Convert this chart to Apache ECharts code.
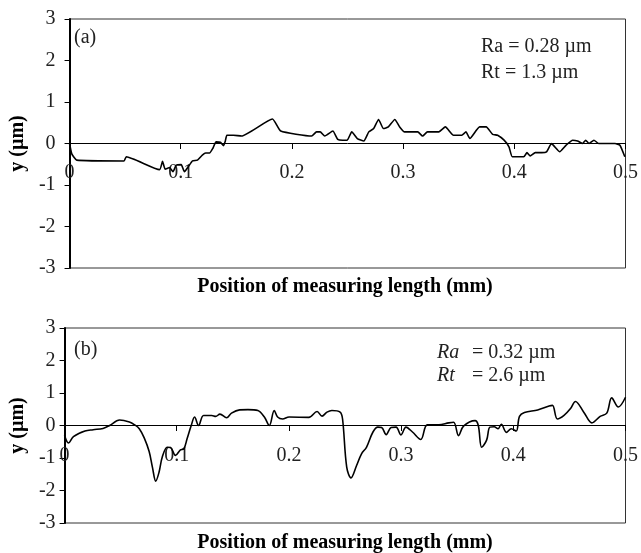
<!DOCTYPE html>
<html>
<head>
<meta charset="utf-8">
<script src="https://cdn.jsdelivr.net/npm/echarts@6/dist/echarts.min.js"></script>
<style>
html,body{margin:0;padding:0;background:#fff;}
#chart{width:641px;height:553px;}
</style>
</head>
<body>
<div id="chart"></div>
<script>
// Panel (a) profile
var aX = [0.000,0.002,0.0064,0.049,0.051,0.081,0.0836,0.086,0.090,0.093,0.096,0.1004,0.1033,0.107,0.1106,0.115,0.1194,0.1224,0.1259,0.1288,0.1318,0.1356,0.1385,0.140,0.1415,0.1473,0.1547,0.1825,0.1899,0.2177,0.2221,0.2254,0.2295,0.2368,0.2412,0.2456,0.2497,0.2538,0.2588,0.2647,0.2691,0.2735,0.2779,0.2823,0.2867,0.2925,0.2969,0.3013,0.3131,0.3175,0.3219,0.3321,0.338,0.3453,0.3527,0.3565,0.36,0.3688,0.3747,0.3805,0.385,0.3908,0.3952,0.3982,0.4085,0.4114,0.4143,0.4188,0.4246,0.429,0.4334,0.4364,0.4408,0.4466,0.4525,0.4569,0.4613,0.4642,0.4672,0.4716,0.4759,0.4906,0.495,0.4994];
var aY = [0,-0.25,-0.40,-0.42,-0.32,-0.63,-0.43,-0.62,-0.58,-0.68,-0.52,-0.51,-0.68,-0.55,-0.42,-0.40,-0.28,-0.23,-0.23,-0.12,0.04,0.03,-0.05,0.05,0.20,0.20,0.18,0.59,0.30,0.18,0.28,0.28,0.18,0.30,0.10,0.08,0.08,0.28,0.12,0.06,0.28,0.36,0.58,0.36,0.40,0.58,0.40,0.28,0.28,0.18,0.28,0.28,0.40,0.20,0.20,0.28,0.12,0.40,0.40,0.22,0.20,0.08,-0.08,-0.32,-0.32,-0.22,-0.30,-0.22,-0.22,-0.20,0,-0.08,-0.20,-0.04,0.08,0.06,0,0.08,0,0.08,0,0,-0.04,-0.32];
// Panel (b) profile
var bX = [0,0.0035,0.0079,0.0182,0.0255,0.0343,0.0402,0.049,0.0578,0.0625,0.0666,0.071,0.0754,0.0783,0.0813,0.0842,0.0871,0.0915,0.0945,0.0989,0.1033,0.1063,0.1092,0.1129,0.1159,0.1195,0.1239,0.1312,0.1347,0.1385,0.1444,0.1488,0.1561,0.1635,0.1723,0.1781,0.1825,0.1869,0.1899,0.1943,0.2001,0.2177,0.2251,0.2295,0.2339,0.2383,0.2456,0.2478,0.2515,0.2553,0.2603,0.2647,0.2691,0.2749,0.2793,0.2826,0.2867,0.2911,0.2955,0.2999,0.3043,0.3101,0.3175,0.3233,0.3336,0.3424,0.3468,0.3512,0.3556,0.3659,0.3688,0.3718,0.3762,0.3791,0.3829,0.3864,0.3893,0.3938,0.3982,0.4026,0.4055,0.4099,0.4217,0.4319,0.4349,0.4393,0.4452,0.451,0.4554,0.4628,0.4701,0.4774,0.4833,0.4877,0.4936,0.5];
var bY = [-0.30,-0.54,-0.34,-0.17,-0.13,-0.09,0.0,0.17,0.11,0.02,-0.10,-0.38,-0.80,-1.28,-1.71,-1.44,-0.97,-0.67,-0.68,-0.92,-0.75,-0.72,-0.41,0,0.26,0,0.31,0.31,0.28,0.35,0.24,0.38,0.48,0.49,0.46,0.26,0.0,0.46,0.26,0.20,0.26,0.25,0.43,0.29,0.41,0.46,0.41,0.20,-1.28,-1.61,-1.23,-0.87,-0.67,-0.20,-0.05,-0.06,-0.28,-0.06,-0.05,-0.29,-0.05,-0.20,-0.43,0.02,0.02,0.08,0.10,-0.31,-0.02,0.15,0.0,-0.67,-0.45,-0.05,-0.04,-0.10,0.04,-0.21,-0.10,-0.17,0.28,0.40,0.48,0.60,0.62,0.20,0.31,0.52,0.74,0.41,0.08,0.28,0.38,0.85,0.57,0.87];

var xTicks = {min: 0, max: 0.5, interval: 0.1};
var yTicks = {min: -3, max: 3, interval: 1};
var xTitle = 'Position of measuring length (mm)';
var yTitle = 'y (µm)';
var panelLabels = ['(a)', '(b)'];
var raA = 'Ra = 0.28 µm', rtA = 'Rt = 1.3 µm';
var raB = ['Ra', ' = 0.32 µm'], rtB = ['Rt', ' = 2.6 µm'];

function pairs(xs, ys){ return xs.map(function(x,i){ return [x, ys[i]]; }); }

var FONT = 'Liberation Serif';
var chart = echarts.init(document.getElementById('chart'), null, {renderer:'canvas'});

// x axis drawn at y = 0: placed from the bottom edge with a negative offset
function xAxisCfg(gi, offset, margin){
  return {
    type:'value', gridIndex:gi, min:xTicks.min, max:xTicks.max, interval:xTicks.interval,
    position:'bottom', offset:offset,
    axisLine:{show:true, onZero:false, lineStyle:{color:'#000', width:1}},
    axisTick:{show:true, length:6, lineStyle:{color:'#000', width:1}},
    axisLabel:{color:'#222', fontFamily:FONT, fontSize:20, margin:margin,
      formatter:function(v){ return String(Math.round(v*10)/10); }},
    splitLine:{show:false}
  };
}
function yAxisCfg(gi, margin){
  return {
    type:'value', gridIndex:gi, min:yTicks.min, max:yTicks.max, interval:yTicks.interval,
    name:yTitle, nameLocation:'middle', nameGap:29, nameRotate:90,
    nameTextStyle:{color:'#000', fontFamily:FONT, fontSize:20, fontWeight:'bold'},
    axisLine:{show:true, onZero:false, lineStyle:{color:'#000', width:2}},
    axisTick:{show:true, length:5, lineStyle:{color:'#000', width:1}},
    axisLabel:{color:'#222', fontFamily:FONT, fontSize:20, margin:margin},
    splitLine:{show:false}
  };
}
function t(text, left, top){
  return {text:text, left:left, top:top, padding:0,
    textStyle:{color:'#222', fontFamily:FONT, fontSize:20, fontWeight:'normal', lineHeight:20}};
}
var richB = {
  i:{fontFamily:FONT, fontSize:20, fontStyle:'italic', fontWeight:'normal', color:'#222', width:30, lineHeight:20},
  r:{fontFamily:FONT, fontSize:20, fontStyle:'normal', fontWeight:'normal', color:'#222', lineHeight:20}
};

var option = {
  backgroundColor:'#fff',
  animation:false,
  grid:[
    {left:61, top:19, width:568, height:249, show:true, borderColor:'#333', borderWidth:1, backgroundColor:'transparent'},
    {left:61, top:328, width:568, height:195, show:true, borderColor:'#333', borderWidth:1, backgroundColor:'transparent'}
  ],
  xAxis:[xAxisCfg(0, -125, 20), xAxisCfg(1, -98, 21)],
  yAxis:[yAxisCfg(0, 14), yAxisCfg(1, 9)],
  title:[
    t(panelLabels[0], 74, 28),
    t(raA, 481, 37),
    t(rtA, 481, 63),
    t(panelLabels[1], 74, 340),
    {text:'{i|'+raB[0]+'}{r|'+raB[1]+'}', left:437, top:343, padding:0,
      textStyle:{rich:richB, fontWeight:'normal', fontFamily:FONT, fontSize:20, lineHeight:20}},
    {text:'{i|'+rtB[0]+'}{r|'+rtB[1]+'}', left:437, top:366, padding:0,
      textStyle:{rich:richB, fontWeight:'normal', fontFamily:FONT, fontSize:20, lineHeight:20}},
    {text:xTitle, left:345, top:277, textAlign:'center', padding:0,
      textStyle:{color:'#000', fontFamily:FONT, fontSize:20, fontWeight:'bold', lineHeight:20}},
    {text:xTitle, left:345, top:533, textAlign:'center', padding:0,
      textStyle:{color:'#000', fontFamily:FONT, fontSize:20, fontWeight:'bold', lineHeight:20}}
  ],
  series:[
    {type:'line', xAxisIndex:0, yAxisIndex:0, data:pairs(aX, aY), showSymbol:false, smooth:0.15,
      lineStyle:{color:'#000', width:1.6}},
    {type:'line', xAxisIndex:1, yAxisIndex:1, data:pairs(bX, bY), showSymbol:false, smooth:0.35,
      lineStyle:{color:'#000', width:1.6}}
  ]
};
chart.setOption(option);
</script>
</body>
</html>
